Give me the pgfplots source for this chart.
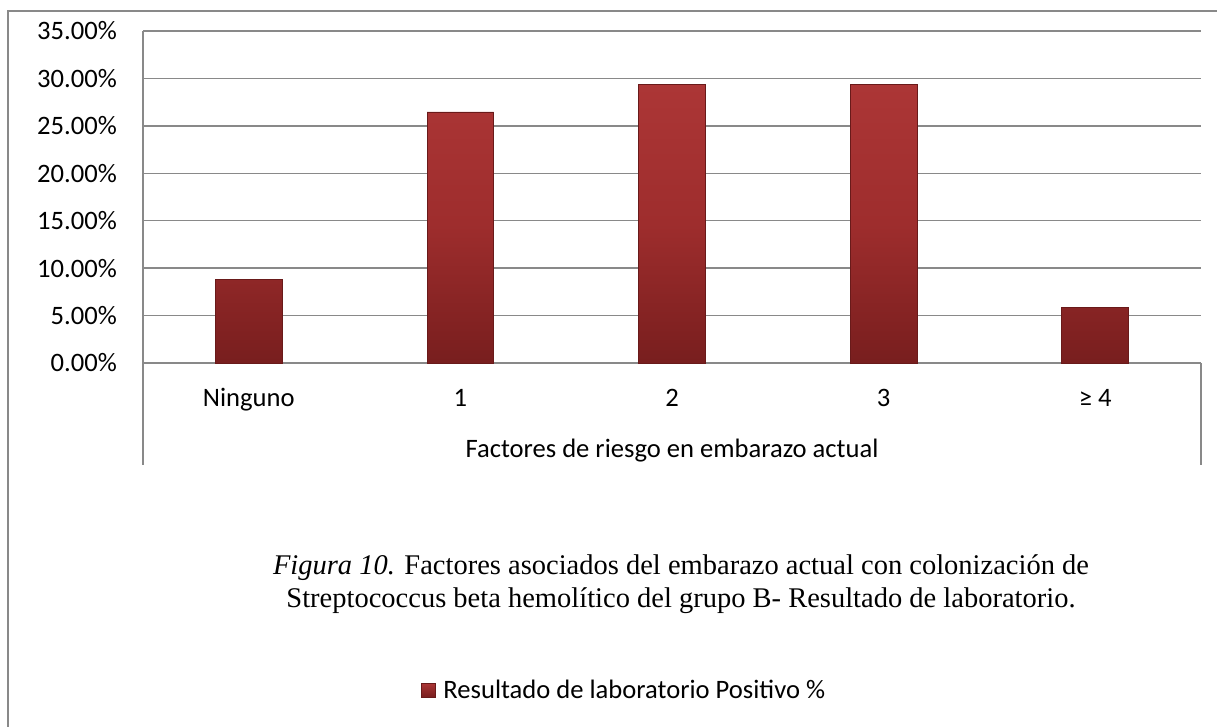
\documentclass[border=0pt]{standalone}
\usepackage{pgfplots}
\pgfplotsset{compat=1.18}
\usepackage{fontspec}
\setmainfont{Carlito}
\newfontfamily\timesfont{Liberation Serif}
\definecolor{barmid}{RGB}{158,45,45}
\definecolor{bartop}{RGB}{172,54,54}
\definecolor{barbot}{RGB}{120,30,30}
\definecolor{bardraw}{RGB}{105,26,26}
\definecolor{gridgray}{RGB}{137,137,137}
\newcommand\chartfont{\fontsize{26.6bp}{32bp}\selectfont}
\newcommand\capfont{\timesfont\fontsize{28.5bp}{33bp}\selectfont}
\begin{document}
\begin{tikzpicture}
\useasboundingbox (0,0) rectangle (1217bp,-727bp);
\draw[gridgray, line width=2bp] (8bp,-727bp) -- (8bp,-11bp) -- (1217bp,-11bp);
\begin{axis}[
  at={(143bp,-363bp)}, anchor=south west,
  scale only axis, width=1058bp, height=332bp,
  xmin=-0.5, xmax=4.5, ymin=0, ymax=35,
  ytick={0,5,...,35},
  xtick={0,1,2,3,4},
  xticklabels={Ninguno,1,2,3,≥ 4},
  /pgf/number format/assume math mode=true,
  yticklabel={\pgfmathprintnumber[fixed,fixed zerofill,precision=2]{\tick}\%},
  axis x line=bottom, axis y line=left,
  axis line style={gridgray, line width=1.5bp, -},
  major tick length=0pt,
  ymajorgrids, grid style={gridgray, line width=1.5bp},
  tick label style={font=\chartfont, text=black},
  yticklabel style={anchor=east, inner sep=0pt, xshift=-26bp},
  xticklabel style={anchor=base, inner sep=0pt, yshift=-43bp},
  xlabel={Factores de riesgo en embarazo actual},
  xlabel style={at={(axis description cs:0.5,0)}, anchor=base, inner sep=0pt, yshift=-94bp, font=\chartfont},
  ybar, bar width=66.7bp,
  legend style={at={(axis description cs:0.4546,-0.985)}, anchor=center, draw=none, fill=none, font=\chartfont, inner sep=0pt},
  legend image code/.code={\draw[bardraw, line width=0.6bp, top color=bartop, bottom color=barbot] (0bp,-7bp) rectangle (14bp,7bp); \path (20bp,0bp);},
]
\addplot[draw=bardraw, line width=0.8bp, top color=bartop, bottom color=barbot, middle color=barmid]
  coordinates {(0,8.82) (1,26.47) (2,29.41) (3,29.41) (4,5.88)};
\addlegendentry{Resultado de laboratorio Positivo \%}
\end{axis}
\draw[gridgray, line width=1.5bp] (143bp,-363bp) -- (143bp,-465bp);
\draw[gridgray, line width=1.5bp] (1201bp,-363bp) -- (1201bp,-465bp);
\node[anchor=base, inner sep=0pt, font=\capfont] at (681bp,-574bp)
  {\textit{Figura 10.} Factores asociados del embarazo actual con colonización de};
\node[anchor=base, inner sep=0pt, font=\capfont] at (681bp,-607bp)
  {Streptococcus beta hemolítico del grupo B- Resultado de laboratorio.};
\end{tikzpicture}
\end{document}
